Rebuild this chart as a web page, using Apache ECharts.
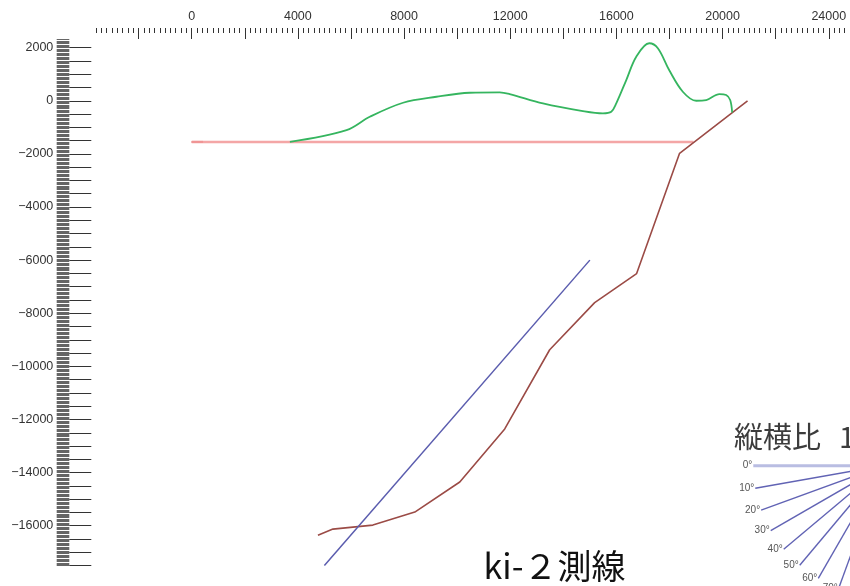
<!DOCTYPE html>
<html>
<head>
<meta charset="utf-8">
<title>ki-2測線</title>
<script src="https://cdn.jsdelivr.net/npm/echarts@6/dist/echarts.min.js"></script>
<style>
  html, body { margin: 0; padding: 0; background: #ffffff; }
  #chart { width: 850px; height: 586px; }
</style>
</head>
<body>
<div id="chart"></div>
<script>
// Section line ki-2: surface profile, reference level, fault trace and dipping plane (metres)

// Topographic profile (distance, elevation)
const topoX = [3700, 5834, 6710, 7964, 9221, 10474, 11603, 11980, 13233, 14738, 15491, 15807, 15995, 16372, 16748, 17237, 17562, 17987, 18502, 19006, 19383, 19883, 20135, 20286, 20361];
const topoY = [-1550, -1106, -604, -75, 151, 302, 317, 253, -98, -389, -475, -415, -98, 781, 1660, 2166, 1977, 1158, 340, 0, 26, 253, 215, 26, -440];

// Reference level
const levelX = [0, 18900];
const levelY = [-1550, -1550];
const levelStartX = [0, 430];
const levelStartY = [-1550, -1550];

// Fault trace
const faultX = [4757, 5321, 6826, 8406, 10100, 11794, 13487, 15181, 16762, 18380, 20940];
const faultY = [-16355, -16128, -15977, -15487, -14355, -12355, -9374, -7600, -6506, -1979, 0];

// Dipping plane
const planeX = [5000, 15000];
const planeY = [-17500, -6000];

// Axis ranges and tick values
const xMin = -3600, xMax = 24800;
const yMin = -18270, yMax = 2740;
const xMajorTicks = [-2000, 0, 2000, 4000, 6000, 8000, 10000, 12000, 14000, 16000, 18000, 20000, 22000, 24000];
const xLabels = [0, 4000, 8000, 12000, 16000, 20000, 24000];
const yLabels = [2000, 0, -2000, -4000, -6000, -8000, -10000, -12000, -14000, -16000];

// Protractor angles (degrees)
const dipAngles = [0, 10, 20, 30, 40, 50, 60, 70, 80, 90];

const yLongTicks = [];
for (let v = -17500; v <= 2000; v += 500) yLongTicks.push(v);
const yRulerTicks = [];
for (let v = -17500; v <= 2300; v += 50) yRulerTicks.push(v);

const zip = (xs, ys) => xs.map((x, i) => [x, ys[i]]);
const plain = v => String(v).replace('-', '\u2212');

// Protractor drawn at its own pixel position
const pc = { x: 883.3, y: 465.7, r: 130 };
const protractor = [];
dipAngles.forEach(a => {
  const t = a * Math.PI / 180;
  const sx = pc.x - pc.r * Math.cos(t);
  const sy = pc.y + pc.r * Math.sin(t);
  protractor.push({
    type: 'line',
    silent: true,
    shape: { x1: sx, y1: sy, x2: pc.x, y2: pc.y },
    style: a === 0
      ? { stroke: '#b9bde2', lineWidth: 3 }
      : { stroke: '#6163b4', lineWidth: 1.4 }
  });
  protractor.push({
    type: 'text',
    silent: true,
    style: {
      text: a + '°',
      x: sx - 1,
      y: sy,
      textAlign: 'right', align: 'right',
      textVerticalAlign: 'middle', verticalAlign: 'middle',
      font: '10px "Liberation Sans", sans-serif',
      fill: '#555555'
    }
  });
});

const chart = echarts.init(document.getElementById('chart'), null, { renderer: 'canvas' });

const labelFont = { fontFamily: '"Liberation Sans", Arial, sans-serif', fontSize: 12.5, color: '#333' };

chart.setOption({
  animation: false,
  backgroundColor: '#ffffff',
  grid: { left: 96.1, top: 28, width: 754.3, height: 558, containLabel: false },
  xAxis: [
    {
      type: 'value', position: 'top', min: xMin, max: xMax, interval: 200,
      axisLine: { show: false, onZero: false },
      axisTick: { show: true, inside: true, length: 5, lineStyle: { color: '#333', width: 1 } },
      axisLabel: { show: false },
      splitLine: { show: false }
    },
    {
      type: 'value', position: 'top', min: xMin, max: xMax,
      axisLine: { show: false, onZero: false },
      axisTick: { show: true, inside: true, length: 11, customValues: xMajorTicks, lineStyle: { color: '#333', width: 1 } },
      axisLabel: Object.assign({ show: true, customValues: xLabels, margin: 5, formatter: plain }, labelFont),
      splitLine: { show: false }
    }
  ],
  yAxis: [
    {
      type: 'value', position: 'left', min: yMin, max: yMax, offset: 26.8,
      axisLine: { show: false, onZero: false },
      axisTick: { show: true, inside: true, length: 22, customValues: yLongTicks, lineStyle: { color: '#333', width: 1 } },
      axisLabel: Object.assign({ show: true, customValues: yLabels, margin: 16, formatter: plain }, labelFont),
      splitLine: { show: false }
    },
    {
      type: 'value', position: 'left', min: yMin, max: yMax, offset: 26.8,
      axisLine: { show: false, onZero: false },
      axisTick: { show: true, inside: false, length: 12.6, customValues: yRulerTicks, lineStyle: { color: '#555', width: 0.9 } },
      axisLabel: { show: false },
      splitLine: { show: false }
    }
  ],
  series: [
    {
      name: 'level-start', type: 'line', data: zip(levelStartX, levelStartY),
      showSymbol: false, lineStyle: { color: '#d44a4a', width: 2 }, z: 2
    },
    {
      name: 'level', type: 'line', data: zip(levelX, levelY),
      showSymbol: false, lineStyle: { color: '#f39c9c', width: 2.4, opacity: 0.9 }, z: 3
    },
    {
      name: 'fault', type: 'line', data: zip(faultX, faultY),
      showSymbol: false, lineStyle: { color: '#9b4b46', width: 1.6 }, z: 4
    },
    {
      name: 'topography', type: 'line', data: zip(topoX, topoY), smooth: 0.35,
      showSymbol: false, lineStyle: { color: '#35b55f', width: 1.8 }, z: 5
    },
    {
      name: 'plane', type: 'line', data: zip(planeX, planeY),
      showSymbol: false, lineStyle: { color: '#5a5cae', width: 1.5 }, z: 4
    }
  ],
  graphic: [
    {
      type: 'text', silent: true,
      style: {
        text: 'ki-２測線',
        x: 554.5, y: 566,
        textAlign: 'center', align: 'center',
        textVerticalAlign: 'middle', verticalAlign: 'middle',
        font: '34px "Noto Sans CJK JP", sans-serif',
        fill: '#111111'
      }
    },
    {
      type: 'text', silent: true,
      style: {
        text: '縦横比',
        x: 734, y: 437,
        textAlign: 'left', align: 'left',
        textVerticalAlign: 'middle', verticalAlign: 'middle',
        font: '29px "Noto Sans CJK JP", sans-serif',
        fill: '#3c3c3c'
      }
    },
    {
      type: 'text', silent: true,
      style: {
        text: '1:1',
        x: 839, y: 437,
        textAlign: 'left', align: 'left',
        textVerticalAlign: 'middle', verticalAlign: 'middle',
        font: '29px "Noto Sans CJK JP", sans-serif',
        fill: '#3c3c3c'
      }
    }
  ].concat(protractor)
});
</script>
</body>
</html>
